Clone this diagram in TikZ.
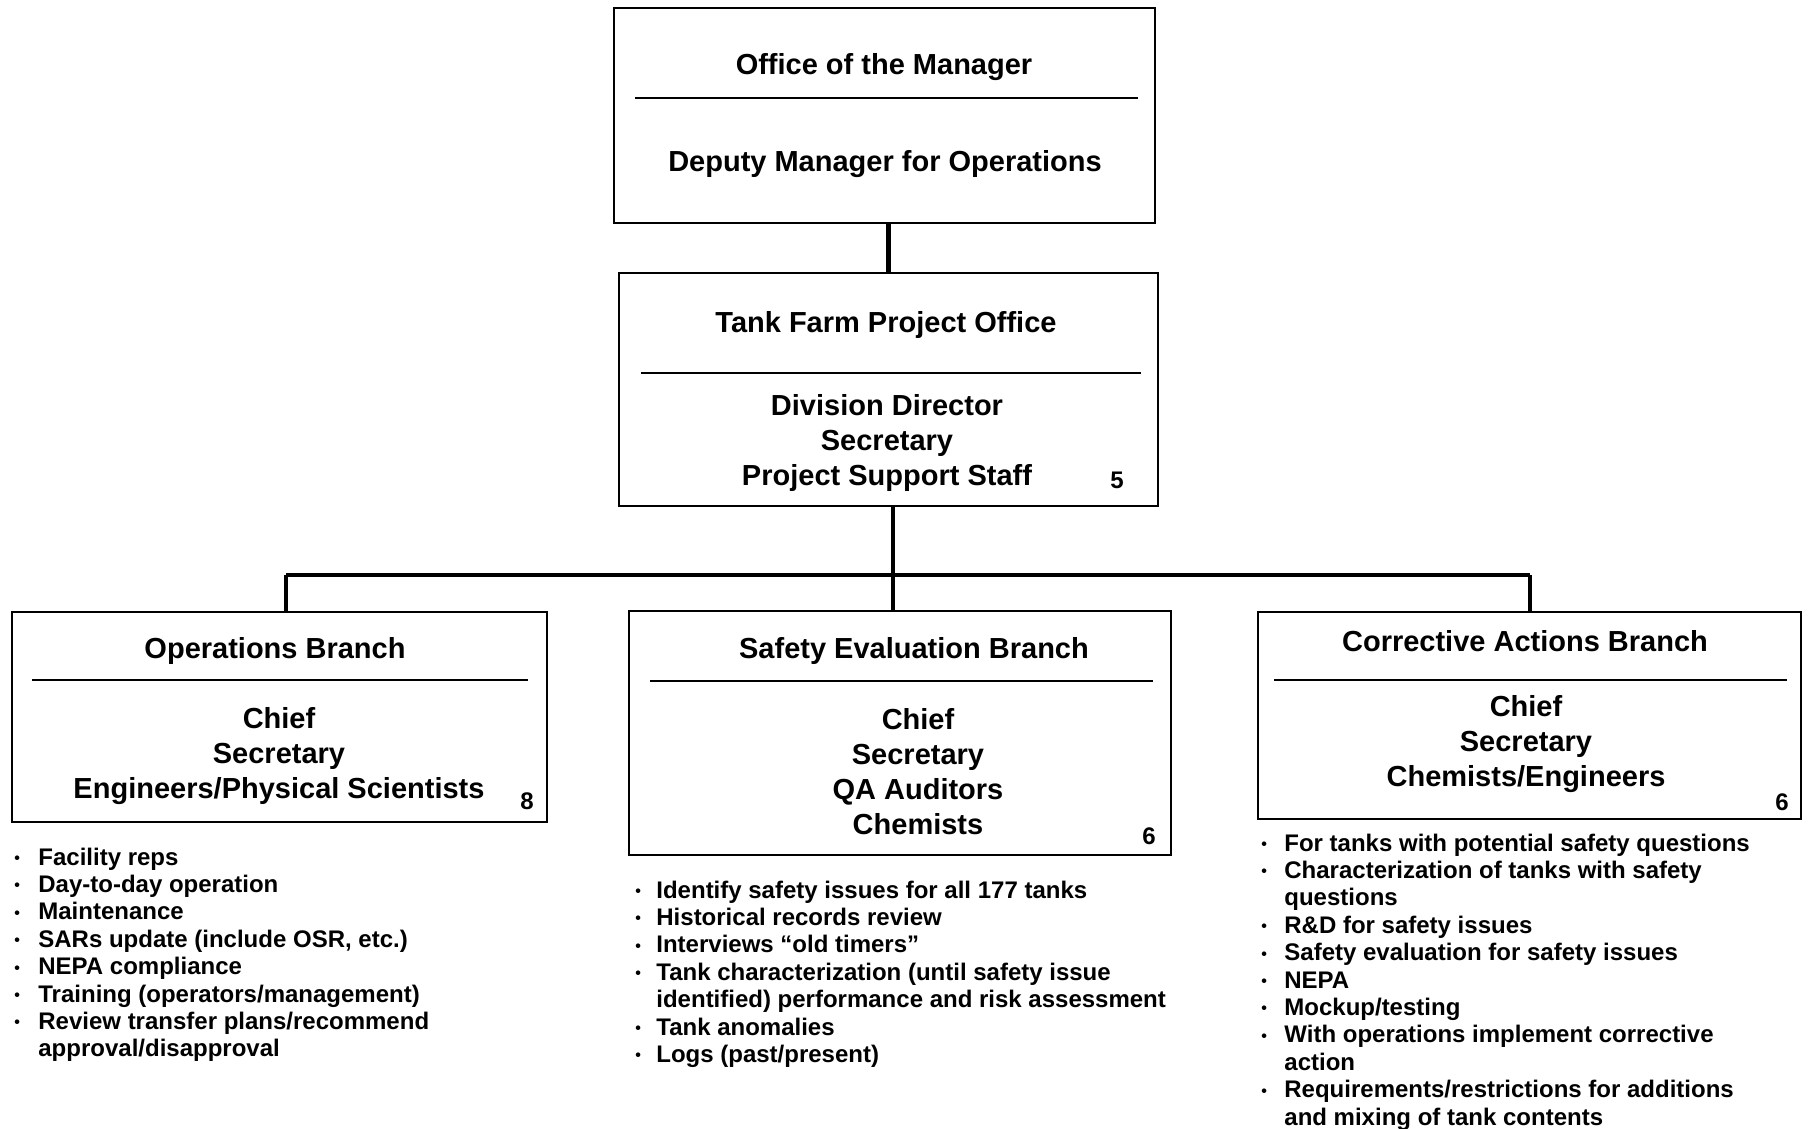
\documentclass[tikz,border=0pt]{standalone}
\usepackage{fontspec}
\setmainfont{Liberation Sans}
\begin{document}
\begin{tikzpicture}[x=0.5pt,y=-0.5pt]
\tikzset{
 orgbox/.style={draw, line width=1.1pt, inner sep=0pt},
 divider/.style={line width=0.9pt},
 link/.style={line width=1.6pt},
 toplink/.style={line width=2.4pt},
 boxtitle/.style={font=\fontsize{14.5}{17.5}\selectfont\bfseries, inner sep=0pt},
 boxbody/.style={font=\fontsize{14.5}{17.5}\selectfont\bfseries, align=center, inner sep=0pt},
 staffcount/.style={font=\fontsize{12}{14}\selectfont\bfseries, inner sep=0pt},
 duties/.style={font=\fontsize{12}{13.7}\selectfont\bfseries, inner sep=0pt, anchor=base west},
}
\newcommand{\bul}{\raisebox{0.8pt}{\fontsize{8}{8}\selectfont\textbullet}}
\useasboundingbox[fill=white] (0,0) rectangle (1811,1129);

% boxes
\node[orgbox, minimum width=270.5pt, minimum height=107.5pt] (top) at (884.5,115.5) {};
\node[orgbox, minimum width=269.5pt, minimum height=116.5pt] (tfpo) at (888.5,389.5) {};
\node[orgbox, minimum width=267.5pt, minimum height=105pt] (ops) at (279.5,717) {};
\node[orgbox, minimum width=271pt, minimum height=122pt] (seb) at (900,733) {};
\node[orgbox, minimum width=271.5pt, minimum height=103.5pt] (cab) at (1529.5,715.5) {};

% dividers
\draw[divider] (635,98) -- (1138,98);
\draw[divider] (641,373) -- (1141,373);
\draw[divider] (32,680) -- (528,680);
\draw[divider] (650,681) -- (1153,681);
\draw[divider] (1274,680) -- (1787,680);

% top box text
\node[boxtitle] (topt) at (884,67) {Office of the Manager};
\node[boxtitle] (topb) at (885,164) {Deputy Manager for Operations};

% tank farm project office
\node[boxtitle] (tfpot) at (886,325) {Tank Farm Project Office};
\node[boxbody] (tfpob) at (887,443) {Division Director\\Secretary\\Project Support Staff};
\node[staffcount] (tfpon) at (1117,480) {5};

% operations
\node[boxtitle] (opst) at (275,651) {Operations Branch};
\node[boxbody] (opsb) at (279,756) {Chief\\Secretary\\Engineers/Physical Scientists};
\node[staffcount] (opsn) at (527,801) {8};

% safety
\node[boxtitle] (sebt) at (914,651) {Safety Evaluation Branch};
\node[boxbody] (sebb) at (918,772) {Chief\\Secretary\\QA Auditors\\Chemists};
\node[staffcount] (sebn) at (1149,836) {6};

% corrective
\node[boxtitle] (cabt) at (1525,641) {Corrective Actions Branch};
\node[boxbody] (cabb) at (1526,744) {Chief\\Secretary\\Chemists/Engineers};
\node[staffcount] (cabn) at (1782,802) {6};

% connectors
\draw[toplink] (tfpo.north) -- (tfpo.north |- top.south);
\coordinate (hub) at (893,575);
\coordinate (jL) at (286,575);
\coordinate (jR) at (1530,575);
\draw[link] (hub |- tfpo.south) -- (hub);
\draw[link] (jL) -- (jR);
\draw[link] (jL) -- (jL |- ops.north);
\draw[link] (hub) -- (hub |- seb.north);
\draw[link] (jR) -- (jR |- cab.north);

% duty lists
\node[duties] (opsl) at (14,865) {\begin{tabular}[t]{@{}p{12pt}@{}l@{}}
\bul & Facility reps\\
\bul & Day-to-day operation\\
\bul & Maintenance\\
\bul & SARs update (include OSR, etc.)\\
\bul & NEPA compliance\\
\bul & Training (operators/management)\\
\bul & Review transfer plans/recommend\\
 & approval/disapproval
\end{tabular}};

\node[duties] (sebl) at (635,898) {\begin{tabular}[t]{@{}p{10.5pt}@{}l@{}}
\bul & Identify safety issues for all 177 tanks\\
\bul & Historical records review\\
\bul & Interviews ``old timers''\\
\bul & Tank characterization (until safety issue\\
 & identified) performance and risk assessment\\
\bul & Tank anomalies\\
\bul & Logs (past/present)
\end{tabular}};

\node[duties] (cabl) at (1261,851) {\begin{tabular}[t]{@{}p{11.5pt}@{}l@{}}
\bul & For tanks with potential safety questions\\
\bul & Characterization of tanks with safety\\
 & questions\\
\bul & R\&D for safety issues\\
\bul & Safety evaluation for safety issues\\
\bul & NEPA\\
\bul & Mockup/testing\\
\bul & With operations implement corrective\\
 & action\\
\bul & Requirements/restrictions for additions\\
 & and mixing of tank contents
\end{tabular}};
\end{tikzpicture}
\end{document}
